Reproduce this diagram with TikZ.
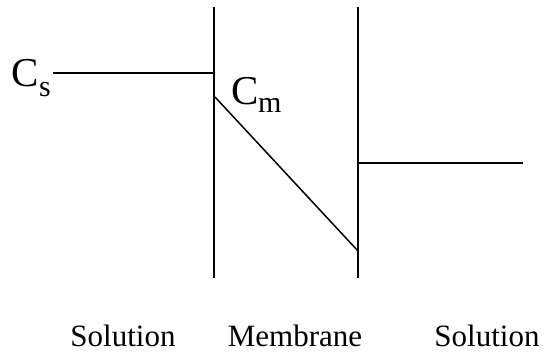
\documentclass[tikz,border=0pt]{standalone}
\usepackage{fontspec}
\setmainfont{Liberation Serif}
\begin{document}
\begin{tikzpicture}[x=1pt,y=-1pt,
  ln/.style={line width=1.5pt,black},
  lbl/.style={font=\fontsize{31}{34}\selectfont,anchor=base,inner sep=0pt},
  conc/.style={font=\fontsize{41}{44}\selectfont,anchor=base west,inner sep=0pt},
  subs/.style={font=\fontsize{30}{32}\selectfont,anchor=base west,inner sep=0pt}]
\useasboundingbox (0,0) rectangle (553,359);
% membrane walls
\coordinate (lt) at (214,7);
\coordinate (lb) at (214,278);
\coordinate (rt) at (358,7);
\coordinate (rb) at (358,278);
\draw[ln] (lt) -- (lb);
\draw[ln] (rt) -- (rb);
% concentration profile
\coordinate (cs0) at (53,73);
\coordinate (cs1) at (214,73);
\coordinate (cm0) at (215,97);
\coordinate (cm1) at (358,251);
\coordinate (cr0) at (358,163);
\coordinate (cr1) at (523,163);
\draw[ln] (cs0) -- (cs1);
\draw[ln] (cm0) -- (cm1);
\draw[ln] (cr0) -- (cr1);
% labels
\node[conc] (cs) at (11,86) {C};
\node[subs] (css) at (39,96) {s};
\node[conc] (cm) at (231,104) {C};
\node[subs] (cms) at (258,112) {m};
\node[lbl] (sol1) at (123,346) {Solution};
\node[lbl] (mem) at (295,346) {Membrane};
\node[lbl] (sol2) at (487,346) {Solution};
\end{tikzpicture}
\end{document}
